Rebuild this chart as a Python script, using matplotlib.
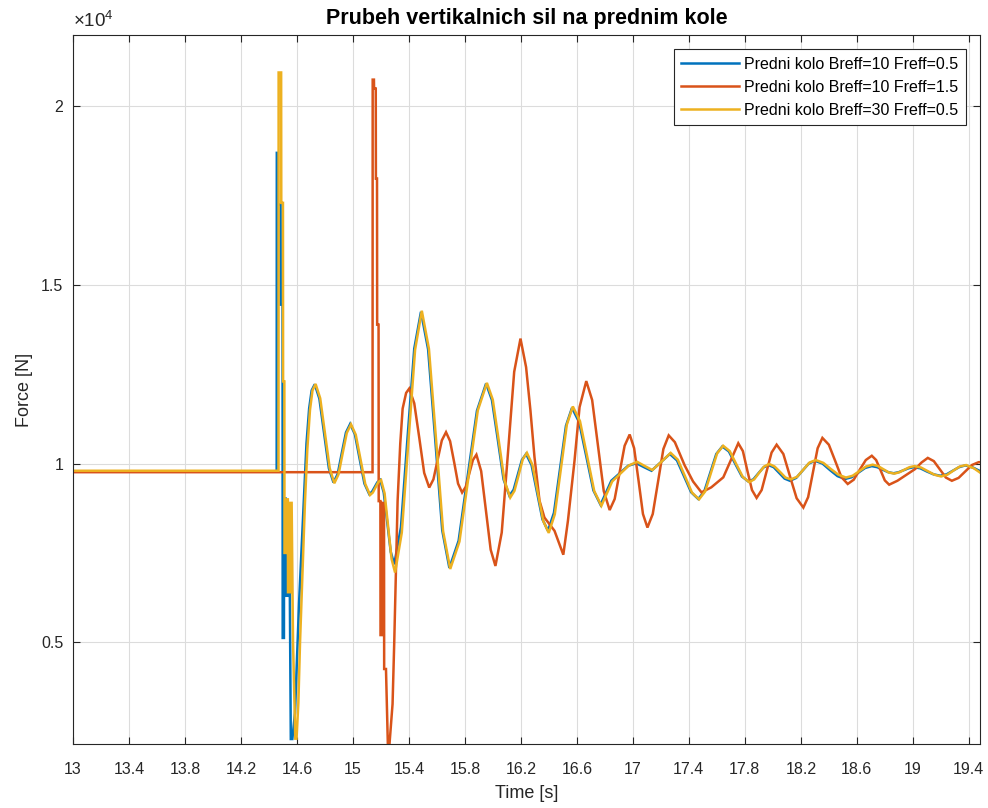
import matplotlib
matplotlib.use("Agg")
import matplotlib.pyplot as plt
from matplotlib.ticker import FuncFormatter, FixedLocator

plt.rcParams['font.family'] = ['Liberation Sans', 'DejaVu Sans']
plt.rcParams['mathtext.fontset'] = 'custom'
plt.rcParams['mathtext.rm'] = 'Liberation Sans'
plt.rcParams['mathtext.it'] = 'Liberation Sans'

# Predni kolo Breff=10 Freff=0.5
t_b10_f05 = [13.0, 14.455, 14.456, 14.462, 14.463, 14.483, 14.484, 14.497, 14.498, 14.507,
             14.508, 14.52, 14.521, 14.535, 14.536, 14.548, 14.556, 14.567, 14.586, 14.603,
             14.615, 14.634, 14.651, 14.668, 14.687, 14.705, 14.727, 14.76, 14.794, 14.828,
             14.861, 14.891, 14.92, 14.95, 14.98, 15.014, 15.048, 15.082, 15.116, 15.136,
             15.156, 15.175, 15.195, 15.22, 15.245, 15.27, 15.295, 15.343, 15.39, 15.438,
             15.486, 15.537, 15.588, 15.638, 15.689, 15.755, 15.82, 15.886, 15.951, 15.993,
             16.035, 16.076, 16.118, 16.148, 16.178, 16.207, 16.237, 16.276, 16.315, 16.354,
             16.393, 16.436, 16.479, 16.522, 16.565, 16.616, 16.667, 16.718, 16.769, 16.846,
             16.966, 17.025, 17.08, 17.133, 17.2, 17.264, 17.315, 17.366, 17.416, 17.467,
             17.51, 17.553, 17.596, 17.639, 17.686, 17.732, 17.779, 17.825, 17.861, 17.897,
             17.932, 17.968, 18.006, 18.045, 18.084, 18.122, 18.167, 18.212, 18.256, 18.301,
             18.355, 18.408, 18.462, 18.516, 18.564, 18.612, 18.66, 18.707, 18.746, 18.785,
             18.824, 18.863, 18.899, 18.935, 18.97, 19.006, 19.053, 19.1, 19.148, 19.196,
             19.241, 19.286, 19.33, 19.375, 19.43, 19.48]
f_b10_f05 = [9780, 9780, 18700, 18700, 17250, 17250, 14450, 14450, 5120, 5120,
             9020, 9020, 6300, 6300, 8600, 7000, 2290, 2290, 3020, 4870,
             6100, 7710, 9200, 10560, 11540, 12050, 12220, 11820, 10850, 9870,
             9470, 9710, 10290, 10870, 11110, 10820, 10130, 9440, 9150, 9210,
             9350, 9480, 9540, 9190, 8360, 7530, 7180, 8220, 10720, 13220,
             14250, 13200, 10670, 8130, 7080, 7840, 9660, 11480, 12240, 11780,
             10670, 9560, 9100, 9270, 9690, 10100, 10270, 9960, 9200, 8440,
             8120, 8620, 9840, 11060, 11560, 11160, 10200, 9250, 8850, 9520,
             9940, 10010, 9900, 9800, 10040, 10270, 10090, 9640, 9200, 9010,
             9220, 9750, 10270, 10480, 10340, 9990, 9640, 9500, 9560, 9730,
             9890, 9960, 9900, 9740, 9580, 9520, 9600, 9800, 10000, 10080,
             10000, 9820, 9650, 9570, 9620, 9750, 9880, 9930, 9900, 9830,
             9760, 9730, 9760, 9815, 9870, 9900, 9870, 9780, 9700, 9660,
             9700, 9800, 9900, 9950, 9890, 9790]

# Predni kolo Breff=10 Freff=1.5
t_b10_f15 = [13.0, 15.140, 15.141, 15.150, 15.151, 15.163, 15.164, 15.172, 15.173, 15.183,
             15.184, 15.196, 15.197, 15.208, 15.209, 15.222, 15.223, 15.236, 15.25, 15.259,
             15.27, 15.283, 15.295, 15.307, 15.319, 15.338, 15.355, 15.38, 15.402, 15.438,
             15.474, 15.509, 15.545, 15.575, 15.605, 15.635, 15.665, 15.694, 15.723, 15.751,
             15.78, 15.806, 15.831, 15.857, 15.882, 15.916, 15.95, 15.984, 16.018, 16.063,
             16.108, 16.152, 16.197, 16.237, 16.268, 16.297, 16.333, 16.368, 16.44, 16.503,
             16.536, 16.583, 16.619, 16.667, 16.709, 16.751, 16.792, 16.834, 16.87, 16.906,
             16.941, 16.977, 17.009, 17.041, 17.072, 17.104, 17.142, 17.18, 17.218, 17.256,
             17.30, 17.37, 17.43, 17.49, 17.56, 17.646, 17.70, 17.753, 17.786, 17.818,
             17.851, 17.884, 17.92, 17.956, 17.991, 18.027, 18.075, 18.122, 18.17, 18.218,
             18.252, 18.286, 18.32, 18.354, 18.4, 18.445, 18.49, 18.535, 18.578, 18.621,
             18.664, 18.707, 18.738, 18.769, 18.8, 18.831, 18.89, 18.946, 19.017, 19.062,
             19.107, 19.15, 19.193, 19.236, 19.279, 19.327, 19.375, 19.422, 19.47, 19.48]
f_b10_f15 = [9760, 9760, 20750, 20750, 20500, 20500, 17980, 17980, 13890, 13890,
             8950, 8950, 5200, 5200, 8900, 8900, 4250, 4250, 2040, 2040,
             2600, 3270, 4995, 6970, 8950, 10560, 11540, 11980, 12100, 11690,
             10720, 9740, 9330, 9560, 10100, 10650, 10880, 10630, 10040, 9440,
             9190, 9350, 9720, 10100, 10250, 9790, 8690, 7590, 7135, 8070,
             10320, 12570, 13500, 12700, 11490, 10180, 8960, 8490, 8120, 7450,
             8400, 10080, 11580, 12310, 11780, 10500, 9230, 8700, 9010, 9760,
             10500, 10815, 10430, 9510, 8590, 8210, 8590, 9500, 10410, 10790,
             10600, 9950, 9500, 9195, 9335, 9616, 10100, 10570, 10350, 9800,
             9260, 9040, 9260, 9790, 10310, 10530, 10270, 9650, 9030, 8770,
             9060, 9750, 10430, 10720, 10530, 10080, 9620, 9430, 9550, 9830,
             10100, 10220, 10100, 9820, 9530, 9410, 9520, 9664, 9850, 10030,
             10160, 10070, 9840, 9610, 9520, 9600, 9780, 9960, 10040, 10040]

# Predni kolo Breff=30 Freff=0.5
t_b30_f05 = [13.0, 14.468, 14.469, 14.487, 14.488, 14.50, 14.501, 14.51, 14.511, 14.52,
             14.521, 14.535, 14.536, 14.552, 14.553, 14.562, 14.572, 14.588, 14.597, 14.61,
             14.622, 14.64, 14.657, 14.674, 14.693, 14.711, 14.733, 14.766, 14.8, 14.834,
             14.867, 14.897, 14.926, 14.956, 14.986, 15.02, 15.054, 15.088, 15.122, 15.142,
             15.162, 15.181, 15.201, 15.226, 15.251, 15.276, 15.301, 15.349, 15.396, 15.444,
             15.492, 15.543, 15.594, 15.644, 15.695, 15.761, 15.826, 15.892, 15.957, 15.999,
             16.041, 16.082, 16.124, 16.154, 16.184, 16.213, 16.243, 16.282, 16.321, 16.36,
             16.399, 16.442, 16.485, 16.528, 16.571, 16.622, 16.673, 16.724, 16.775, 16.852,
             16.972, 17.031, 17.086, 17.139, 17.206, 17.27, 17.321, 17.372, 17.422, 17.473,
             17.516, 17.559, 17.602, 17.645, 17.692, 17.738, 17.785, 17.831, 17.867, 17.903,
             17.938, 17.974, 18.012, 18.051, 18.09, 18.128, 18.173, 18.218, 18.262, 18.307,
             18.361, 18.414, 18.468, 18.522, 18.57, 18.618, 18.666, 18.713, 18.752, 18.791,
             18.83, 18.869, 18.905, 18.941, 18.976, 19.012, 19.059, 19.106, 19.154, 19.202,
             19.247, 19.292, 19.336, 19.381, 19.436, 19.48]
f_b30_f05 = [9800, 9800, 20950, 20950, 17300, 17300, 12300, 12300, 7500, 7500,
             9000, 9000, 6400, 6400, 8900, 8900, 5000, 2300, 2300, 3300,
             5000, 7000, 8900, 10400, 11500, 12050, 12230, 11830, 10850, 9870,
             9450, 9700, 10280, 10860, 11100, 10810, 10120, 9430, 9120, 9190,
             9340, 9480, 9540, 9170, 8250, 7330, 6950, 8070, 10620, 13190,
             14280, 13210, 10660, 8110, 7050, 7820, 9650, 11490, 12260, 11790,
             10660, 9530, 9050, 9240, 9680, 10120, 10300, 9970, 9180, 8390,
             8060, 8580, 9830, 11090, 11600, 11190, 10210, 9230, 8820, 9500,
             9950, 10050, 9930, 9820, 10060, 10300, 10110, 9650, 9190, 9000,
             9220, 9750, 10290, 10500, 10350, 9990, 9630, 9480, 9560, 9750,
             9920, 9990, 9920, 9770, 9610, 9560, 9630, 9830, 10030, 10100,
             10020, 9850, 9690, 9610, 9660, 9790, 9920, 9970, 9930, 9840,
             9750, 9720, 9760, 9830, 9900, 9930, 9890, 9790, 9690, 9640,
             9690, 9810, 9920, 9960, 9870, 9750]

series = [
    (t_b10_f05, f_b10_f05, '#0072BD', 'Predni kolo Breff=10 Freff=0.5'),
    (t_b10_f15, f_b10_f15, '#D95319', 'Predni kolo Breff=10 Freff=1.5'),
    (t_b30_f05, f_b30_f05, '#EDB120', 'Predni kolo Breff=30 Freff=0.5'),
]

x_ticks = [13, 13.4, 13.8, 14.2, 14.6, 15, 15.4, 15.8, 16.2, 16.6, 17, 17.4, 17.8,
           18.2, 18.6, 19, 19.4]
y_ticks = [5000, 10000, 15000, 20000]

fig = plt.figure(figsize=(9.88, 8.08), dpi=100)
ax = fig.add_axes([0.0739, 0.0792, 0.918, 0.8775])

for t, f, c, lab in series:
    ax.plot(t, f, color=c, lw=1.8, label=lab, solid_joinstyle='miter')

ax.set_xlim(13, 19.48)
ax.set_ylim(2150, 22000)
ax.xaxis.set_major_locator(FixedLocator(x_ticks))
ax.yaxis.set_major_locator(FixedLocator(y_ticks))
ax.xaxis.set_major_formatter(FuncFormatter(lambda v, p: f"{v:g}"))
ax.yaxis.set_major_formatter(FuncFormatter(lambda v, p: f"{v / 1e4:g}"))

axis_col = '#262626'
ax.grid(True, color='#dcdcdc', lw=0.8)
ax.set_axisbelow(True)
for s in ax.spines.values():
    s.set_color(axis_col)
    s.set_linewidth(0.8)
ax.tick_params(direction='in', length=5, width=0.8, colors=axis_col,
               top=True, right=True, labelsize=11.5)
ax.tick_params(axis='x', pad=13)
ax.tick_params(axis='y', pad=7)

ax.set_xlabel('Time [s]', fontsize=13, color=axis_col, labelpad=6)
ax.set_ylabel('Force [N]', fontsize=13, color=axis_col, labelpad=6)
ax.set_title('Prubeh vertikalnich sil na prednim kole', fontsize=15.5,
             fontweight='bold', color='black', pad=8)
ax.text(0.0, 1.006, r'$\times10^{4}$', transform=ax.transAxes, fontsize=13.5,
        color=axis_col, ha='left', va='bottom')

leg = ax.legend(loc='upper right', fontsize=11.5, handlelength=3.6,
                handletextpad=0.35, labelspacing=0.5, borderaxespad=0.9,
                fancybox=False, framealpha=1, edgecolor=axis_col,
                borderpad=0.45)
leg.get_frame().set_linewidth(0.8)

fig.savefig('out.png', dpi=100)
